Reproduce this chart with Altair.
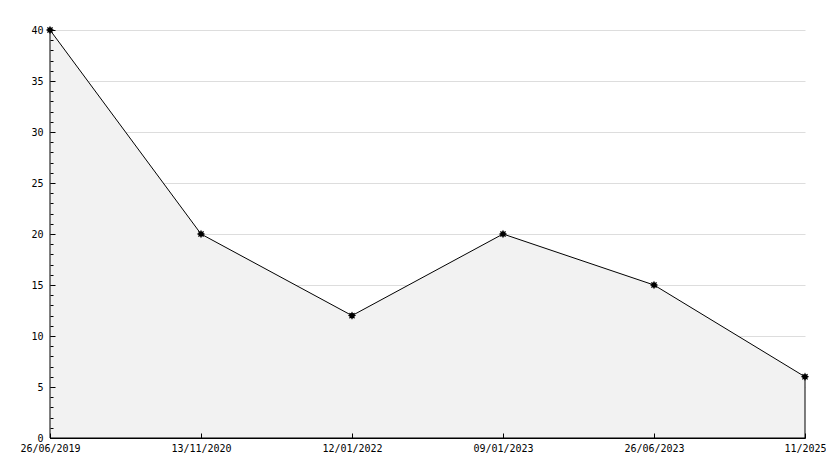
import math
import altair as alt
import pandas as pd

# ---- data ----
dates = ["26/06/2019", "13/11/2020", "12/01/2022", "09/01/2023", "26/06/2023", "11/2025"]
values = [40, 20, 12, 20, 15, 6]

df = pd.DataFrame({"i": list(range(len(dates))), "v": values})

FONT = "DejaVu Sans Mono"
W, H = 755, 408

label_expr = "[" + ",".join("'%s'" % d for d in dates) + "][datum.value]"

xscale = alt.Scale(domain=[0, len(dates) - 1], nice=False, zero=False)
yscale = alt.Scale(domain=[0, 40], nice=False)

# small 8-point star marker
pts = []
for k in range(16):
    r = 1.0 if k % 2 == 0 else 0.6
    a = math.pi * 2 * k / 16
    pts.append("%.3f,%.3f" % (r * math.cos(a), r * math.sin(a)))
star = "M" + " L".join(pts) + " Z"

base = alt.Chart(df)

area = base.mark_area(fill="#f2f2f2", stroke="black", strokeWidth=1).encode(
    x=alt.X("i:Q", scale=xscale, axis=alt.Axis(
        orient="bottom", title=None, values=list(range(len(dates))), labelExpr=label_expr,
        labelFlush=False, ticks=False, tickSize=0, grid=False, domain=True,
        domainColor="black", domainWidth=1, labelPadding=5, labelFont=FONT,
        labelFontSize=10, labelColor="black", zindex=1)),
    y=alt.Y("v:Q", scale=yscale, axis=alt.Axis(
        orient="left", title=None, values=list(range(0, 41, 5)), ticks=False, tickSize=0,
        grid=True, gridColor="#dddddd", gridWidth=1, domain=True, domainColor="black",
        labelPadding=7, labelFont=FONT, labelFontSize=10, labelColor="black", zindex=0)),
)

points = base.mark_point(shape=star, filled=True, color="black", opacity=1, size=70).encode(
    x=alt.X("i:Q", scale=xscale, axis=alt.Axis(
        orient="top", offset=-H, title=None, values=list(range(len(dates))), labels=False,
        domain=False, grid=False, ticks=True, tickSize=5, tickColor="black", zindex=1)),
    y=alt.Y("v:Q", scale=yscale, axis=alt.Axis(
        orient="right", offset=-W, title=None, values=list(range(0, 41)), labels=False,
        domain=False, grid=False, ticks=True, tickSize=3, tickColor="black", zindex=1)),
)

major = base.mark_point(opacity=0).encode(
    x=alt.X("i:Q", scale=xscale, axis=None),
    y=alt.Y("v:Q", scale=yscale, axis=alt.Axis(
        orient="right", offset=-W, title=None, values=list(range(0, 41, 5)), labels=False,
        domain=False, grid=False, ticks=True, tickSize=5, tickColor="black", zindex=1)),
)

chart = alt.layer(area, points, major).resolve_axis(x="independent", y="independent").properties(
    width=W, height=H,
    autosize=alt.AutoSizeParams(type="none"),
    padding={"left": 42, "top": 22, "right": 21, "bottom": 22},
    background="white",
).configure_view(stroke=None)

chart.save("out.html", embed_options={"renderer": "svg", "actions": False})
